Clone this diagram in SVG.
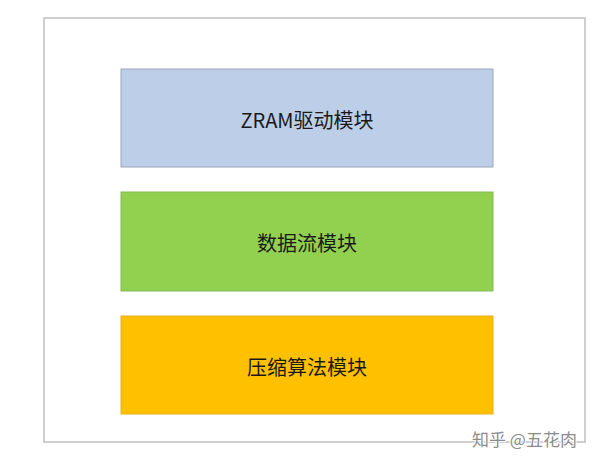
<svg xmlns="http://www.w3.org/2000/svg" width="600" height="465" viewBox="0 0 600 465">
<style>
.frame{fill:#ffffff;stroke:#bfbfbf;stroke-width:1.5}
.box{stroke-width:1}
.lbl{font-family:"Noto Sans CJK SC","Noto Sans",sans-serif;font-size:20px;fill:#1a1a1a;text-anchor:middle;dominant-baseline:central}
.wm{font-family:"Noto Sans CJK SC",sans-serif;font-size:17px;fill:#8c8c8c;stroke:#ffffff;stroke-width:2;paint-order:stroke}
</style>
<rect width="600" height="465" fill="#ffffff"/>
<rect class="frame" x="44" y="18" width="541" height="424"/>
<g id="connectors"></g>
<g id="zram">
<rect class="box" x="121" y="69" width="372" height="98" fill="#bccee8" stroke="#9aa8bd"/>
<text class="lbl" x="307" y="119">ZRAM驱动模块</text>
</g>
<g id="dataflow">
<rect class="box" x="121" y="192" width="372" height="99" fill="#92d050" stroke="#86b957"/>
<text class="lbl" x="307" y="242">数据流模块</text>
</g>
<g id="compress">
<rect class="box" x="121" y="316" width="372" height="98" fill="#ffc000" stroke="#e6b020"/>
<text class="lbl" x="307" y="366">压缩算法模块</text>
</g>
<text class="wm" x="472" y="446">知乎  @五花肉</text>
</svg>
